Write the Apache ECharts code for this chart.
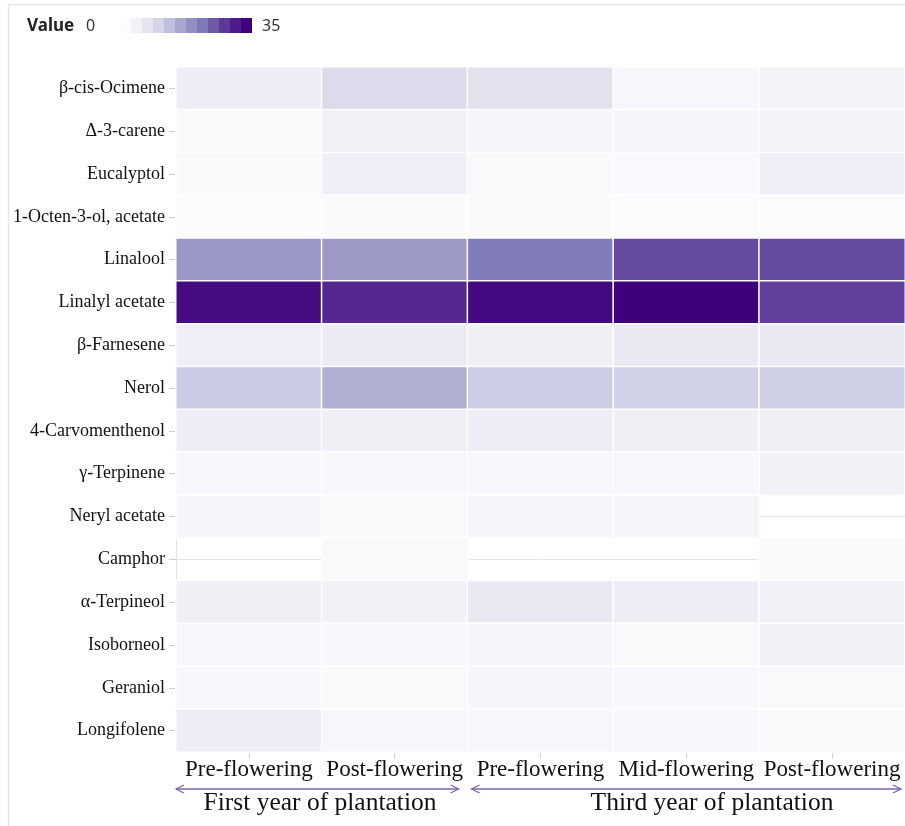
<!DOCTYPE html>
<html>
<head>
<meta charset="utf-8">
<script src="https://cdn.jsdelivr.net/npm/echarts@6.0.0/dist/echarts.min.js"></script>
<style>
  html, body { margin: 0; padding: 0; background: #ffffff; }
  #chart { width: 905px; height: 826px; }
</style>
</head>
<body>
<div id="chart"></div>
<script>
// Compounds, top to bottom
const compounds = [
  'β-cis-Ocimene', 'Δ-3-carene', 'Eucalyptol', '1-Octen-3-ol, acetate',
  'Linalool', 'Linalyl acetate', 'β-Farnesene', 'Nerol',
  '4-Carvomenthenol', 'γ-Terpinene', 'Neryl acetate', 'Camphor',
  'α-Terpineol', 'Isoborneol', 'Geraniol', 'Longifolene'
];

// Sampling stages (columns) and the plantation year each belongs to
const stages = ['Pre-flowering', 'Post-flowering', 'Pre-flowering', 'Mid-flowering', 'Post-flowering'];
const yearGroups = ['First year of plantation', 'Third year of plantation'];
const yearSpans = [[0, 1], [2, 4]];

// Relative content (%) per compound, one array per stage; null = not detected
const firstPre   = [4.5, 1.0, 1.0, 0.3, 18.0, 33.5, 4.0, 11.0, 4.5, 1.2, 2.0, null, 3.8, 1.5, 1.2, 4.5];
const firstPost  = [8.5, 3.5, 4.0, 0.5, 17.5, 30.5, 5.0, 15.0, 3.8, 1.2, 0.5, 1.0, 3.0, 1.2, 1.0, 1.5];
const thirdPre   = [7.0, 2.0, 1.0, 0.5, 22.0, 34.0, 3.8, 10.8, 4.5, 1.3, 2.0, null, 5.5, 2.0, 2.0, 1.5];
const thirdMid   = [1.5, 2.0, 0.8, 0.3, 27.0, 35.0, 5.5, 10.0, 3.8, 1.3, 1.8, null, 4.5, 1.0, 1.3, 1.2];
const thirdPost  = [2.5, 2.5, 4.0, 0.3, 27.0, 28.0, 5.5, 10.5, 3.8, 3.0, null, 1.0, 3.5, 3.0, 1.0, 1.0];

const columns = [firstPre, firstPost, thirdPre, thirdMid, thirdPost];

// Colour ramp (purples)
const purples = ['#fcfbfd', '#efedf5', '#dadaeb', '#bcbddc', '#9e9ac8', '#807dba', '#6a51a3', '#54278f', '#3f007d'];
const valueMin = 0;
const valueMax = 35;
const legendTitle = 'Value';

const cells = [];
columns.forEach((col, xi) => {
  col.forEach((v, yi) => {
    if (v !== null) cells.push([xi, yi, v]);
  });
});

const serif = '"Liberation Serif", "DejaVu Serif", serif';
const sans = '"Noto Sans", "Open Sans", sans-serif';

const chart = echarts.init(document.getElementById('chart'), null, { renderer: 'canvas' });

const legendLeft = 120;
const legendTop = 18;
const legendSteps = 12;
const legendStepW = 11;
const legendH = 15;

const option = {
  backgroundColor: '#ffffff',
  animation: false,
  grid: { left: 176, right: 0, top: 67, bottom: 74, containLabel: false },
  xAxis: {
    type: 'category',
    data: stages,
    position: 'bottom',
    axisLine: { show: true, lineStyle: { color: '#dcdcdc', width: 1 } },
    axisTick: { show: true, alignWithLabel: true, length: 6, lineStyle: { color: '#cfcfcf' } },
    axisLabel: { fontFamily: serif, fontSize: 23, color: '#111', margin: 6, interval: 0 },
    splitLine: { show: false }
  },
  yAxis: {
    type: 'category',
    data: compounds,
    inverse: true,
    axisLine: { show: true, lineStyle: { color: '#e2e2e2', width: 1 } },
    axisTick: { show: true, alignWithLabel: true, length: 7, lineStyle: { color: '#cfcfcf' } },
    axisLabel: { fontFamily: serif, fontSize: 18, color: '#111', margin: 11, interval: 0 },
    splitLine: { show: true, alignWithLabel: true, lineStyle: { color: '#e4e4e4', width: 1 } }
  },
  visualMap: [
    {
      // colours the cells
      type: 'continuous',
      show: false,
      seriesIndex: 0,
      min: valueMin,
      max: valueMax,
      inRange: { color: purples }
    },
    {
      // stepped legend bar
      type: 'piecewise',
      seriesIndex: 1,
      orient: 'horizontal',
      min: valueMin,
      max: valueMax,
      splitNumber: legendSteps,
      itemWidth: legendStepW,
      itemHeight: legendH,
      itemGap: 0,
      itemSymbol: 'rect',
      showLabel: false,
      selectedMode: false,
      padding: 0,
      left: legendLeft,
      top: legendTop,
      inRange: { color: purples }
    }
  ],
  series: [
    {
      type: 'heatmap',
      data: cells,
      itemStyle: { borderColor: '#ffffff', borderWidth: 1.5 },
      emphasis: { disabled: true }
    },
    {
      type: 'heatmap',
      data: []
    }
  ]
};

chart.setOption(option);

// Year brackets below the stage labels, placed from the x axis scale
function boundary(idx, side) {
  const c0 = chart.convertToPixel({ xAxisIndex: 0 }, 0);
  const c1 = chart.convertToPixel({ xAxisIndex: 0 }, 1);
  const c = chart.convertToPixel({ xAxisIndex: 0 }, idx);
  return c + side * (c1 - c0) / 2;
}

const arrowY = 789;
const arrowColor = '#7d64ad';
const labelCenters = [320, 712];
const graphics = [];
yearSpans.forEach((span, i) => {
  const x0 = boundary(span[0], -1) + (i === 0 ? 0 : 4);
  const x1 = Math.min(boundary(span[1], 1), 903) - (i === 0 ? 9 : 2);
  graphics.push({
    type: 'line',
    shape: { x1: x0, y1: arrowY, x2: x1, y2: arrowY },
    style: { stroke: arrowColor, lineWidth: 1.3 }
  });
  graphics.push({
    type: 'polyline',
    shape: { points: [[x0 + 8, arrowY - 4], [x0, arrowY], [x0 + 8, arrowY + 4]] },
    style: { stroke: arrowColor, lineWidth: 1.3, fill: null }
  });
  graphics.push({
    type: 'polyline',
    shape: { points: [[x1 - 8, arrowY - 4], [x1, arrowY], [x1 - 8, arrowY + 4]] },
    style: { stroke: arrowColor, lineWidth: 1.3, fill: null }
  });
  graphics.push({
    type: 'text',
    x: labelCenters[i],
    y: 803,
    style: {
      text: yearGroups[i],
      font: '25.5px ' + serif,
      fill: '#111',
      align: 'center',
      verticalAlign: 'middle'
    }
  });
});

// Legend caption and end values
const legendMidY = legendTop + legendH / 2 + 1;
graphics.push({
  type: 'text', x: 27, y: legendMidY,
  style: { text: legendTitle, font: 'bold 17px ' + sans, fill: '#222', verticalAlign: 'middle' }
});
graphics.push({
  type: 'text', x: 86, y: legendMidY,
  style: { text: String(valueMin), font: '16px ' + sans, fill: '#333', verticalAlign: 'middle' }
});
graphics.push({
  type: 'text', x: legendLeft + legendSteps * legendStepW + 10, y: legendMidY,
  style: { text: String(valueMax), font: '16px ' + sans, fill: '#333', verticalAlign: 'middle' }
});

// Card frame lines (top and left edges)
graphics.push({
  type: 'line',
  shape: { x1: 8, y1: 4.5, x2: 905, y2: 4.5 },
  style: { stroke: '#e6e6e6', lineWidth: 1.5 }
});
graphics.push({
  type: 'line',
  shape: { x1: 8.5, y1: 4, x2: 8.5, y2: 826 },
  style: { stroke: '#e6e6e6', lineWidth: 1.5 }
});

chart.setOption({ graphic: graphics });
</script>
</body>
</html>
